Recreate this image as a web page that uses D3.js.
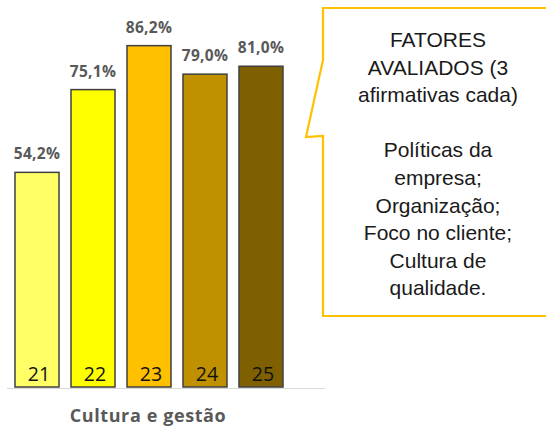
<!DOCTYPE html>
<html><head><meta charset="utf-8">
<script src="https://cdn.jsdelivr.net/npm/d3@7"></script>
<style>html,body{margin:0;padding:0;background:#fff;}svg{display:block;}</style>
</head><body>
<svg id="c" width="546" height="432"></svg>
<script>
const categories = ["21","22","23","24","25"];
const values = [54.2, 75.1, 86.2, 79.0, 81.0];
const valueLabels = ["54,2%","75,1%","86,2%","79,0%","81,0%"];
const barColors = ["#FFFF66","#FFFF00","#FFC000","#BF9000","#7F6000"];
const axisTitle = "Cultura e gestão";
const calloutLines = ["FATORES","AVALIADOS (3","afirmativas cada)","","Políticas da","empresa;","Organização;","Foco no cliente;","Cultura de","qualidade."];

const svg = d3.select("#c");
const x = d3.scaleBand().domain(categories).range([8, 290]).paddingInner(0.214).paddingOuter(0.125);
const y = d3.scaleLinear().domain([0, 100]).range([387, -9]);
const sans = "'Open Sans', Carlito, Calibri, sans-serif";

// baseline
svg.append("line").attr("x1", 7).attr("x2", 325).attr("y1", 388.5).attr("y2", 388.5)
  .attr("stroke", "#d9d9d9").attr("stroke-width", 1.2);

svg.selectAll("rect.bar").data(values).join("rect").attr("class","bar")
  .attr("x", (d,i) => x(categories[i]))
  .attr("width", x.bandwidth())
  .attr("y", d => y(d))
  .attr("height", d => y(0) - y(d))
  .attr("fill", (d,i) => barColors[i])
  .attr("stroke", "#404040").attr("stroke-width", 1.5);

svg.selectAll("text.val").data(values).join("text").attr("class","val")
  .attr("x", (d,i) => x(categories[i]) + x.bandwidth()/2)
  .attr("y", d => y(d) - 13)
  .attr("text-anchor","middle")
  .attr("font-family", sans)
  .attr("font-weight","bold").attr("font-size", 15.5).attr("letter-spacing", 0.3).attr("fill","#595959")
  .text((d,i) => valueLabels[i]);

svg.selectAll("text.cat").data(categories).join("text").attr("class","cat")
  .attr("x", d => x(d) + x.bandwidth()/2 + 2)
  .attr("y", 381)
  .attr("text-anchor","middle")
  .attr("font-family", sans)
  .attr("font-size", 19.5).attr("fill","#111")
  .text(d => d);

svg.append("text").attr("x", 148).attr("y", 422).attr("text-anchor","middle")
  .attr("font-family", sans)
  .attr("font-weight","bold").attr("font-size", 18).attr("letter-spacing", 0.6).attr("fill","#595959")
  .text(axisTitle);

// callout
const path = d3.path();
path.moveTo(323, 8);
path.lineTo(560, 8);
path.lineTo(560, 316);
path.lineTo(323, 316);
path.lineTo(323, 136);
path.lineTo(306, 137);
path.lineTo(323, 60);
path.closePath();
svg.append("path").attr("d", path.toString()).attr("fill","#fff")
  .attr("stroke","#FFC000").attr("stroke-width", 2.2).attr("stroke-linejoin","miter");

svg.selectAll("text.co").data(calloutLines).join("text").attr("class","co")
  .attr("x", 438).attr("y", (d,i) => 47 + i*27.6)
  .attr("text-anchor","middle")
  .attr("font-family","'Liberation Sans', Arial, sans-serif")
  .attr("font-size", 21).attr("fill","#1a1a1a")
  .text(d => d);
</script>
</body></html>
